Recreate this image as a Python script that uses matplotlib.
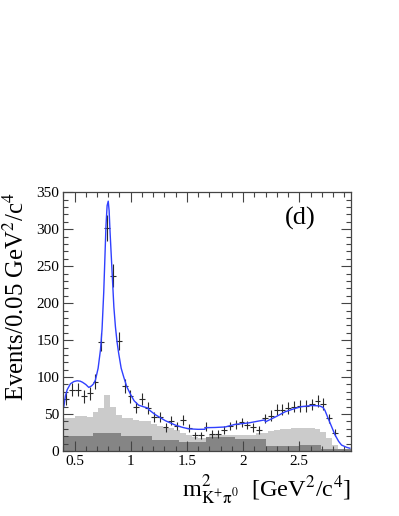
import numpy as np
import matplotlib
matplotlib.use("Agg")
import matplotlib.pyplot as plt
from matplotlib.ticker import MultipleLocator

plt.rcParams['font.family'] = ['Liberation Serif', 'DejaVu Serif']
plt.rcParams['mathtext.fontset'] = 'stix'

# binning of the data histogram
lo, bw = 0.4, 0.052
# data points (events per bin)
counts = [71, 83, 83, 74, 78, 94, 147, 302, 237, 149, 88, 74, 59, 70, 58, 46,
          46, 32, 41, 34, 42, 31, 21, 21, 33, 23, 23, 28, 34, 36, 39, 35, 32,
          28, 44, 48, 56, 56, 58, 60, 61, 61, 63, 68, 64, 44, 25]

# light grey background (per data bin)
light_vals = [44, 44, 47, 47, 46, 53, 58, 76, 60, 49, 45, 44, 42, 41, 40, 37,
              34, 33, 31, 28, 25, 21, 19, 18, 17, 22, 22, 22, 21.5, 21.7, 22,
              22, 22, 24, 25, 27, 28, 30, 30, 31, 31.6, 31.6, 31.6, 30, 26,
              18, 8, 3, 1, 0]

# dark grey background (coarse bins)
dark_edges = [0.4, 0.66, 0.91, 1.19, 1.43, 1.67, 1.93, 2.2, 2.5, 2.69, 2.96]
dark_vals = [20, 25, 20, 15.5, 12.5, 19, 16, 7, 8, 3]

# fit curve
fit_x = [0.405, 0.42, 0.435, 0.464, 0.495, 0.524, 0.55, 0.571, 0.6, 0.627,
         0.651, 0.67, 0.686, 0.71, 0.731, 0.745, 0.76, 0.77, 0.78, 0.79, 0.8,
         0.808, 0.815, 0.825, 0.835, 0.85, 0.864, 0.878, 0.893, 0.915, 0.938,
         0.965, 0.997, 1.03, 1.07, 1.11, 1.155, 1.16, 1.22, 1.308, 1.397,
         1.46, 1.515, 1.6, 1.66, 1.665, 1.75, 1.84, 1.93, 2.05, 2.19, 2.2,
         2.3, 2.373, 2.45, 2.52, 2.61, 2.68, 2.71, 2.728, 2.757, 2.79, 2.817,
         2.85, 2.876, 2.92, 2.95]
fit_y = [60, 75, 83, 91, 94, 95, 94.5, 93, 90, 86, 88, 91, 96, 112, 137, 165,
         215, 260, 305, 332, 338, 325, 300, 270, 240, 195, 168, 148, 132, 112,
         100, 87, 77, 68, 62, 60, 58, 56, 49, 41, 35, 32, 30, 29.3, 29.4, 31.5,
         31.8, 32.5, 36, 38, 42, 39.5, 47, 53, 57, 60, 61.5, 61, 59, 55, 44,
         32, 22, 13, 8, 5, 3.7]

x_ticks = [0.5, 1, 1.5, 2, 2.5]
x_ticklabels = ['0.5', '1', '1.5', '2', '2.5']
y_ticks = [0, 50, 100, 150, 200, 250, 300, 350]

fig = plt.figure(figsize=(3.99, 5.16), dpi=100)
ax = fig.add_axes([0.1586, 0.126, 0.7211, 0.5013])

light_edges = lo + bw * np.arange(len(light_vals) + 1)
ax.stairs(light_vals, light_edges, fill=True, color='#cbcbcb', lw=0)
ax.stairs(dark_vals, dark_edges, fill=True, color='#858585', lw=0)

centers = lo + bw * (np.arange(len(counts)) + 0.5)
counts = np.array(counts, dtype=float)
ax.errorbar(centers, counts, yerr=np.sqrt(counts), xerr=bw / 2, fmt='none',
            ecolor='#2a2a2a', elinewidth=0.8, capsize=0)

ax.plot(fit_x, fit_y, color='#3040ff', lw=1.0)

ax.set_xlim(0.4, 2.96)
ax.set_ylim(0, 350)
ax.set_xticks(x_ticks)
ax.set_xticklabels(x_ticklabels)
ax.set_yticks(y_ticks)
ax.xaxis.set_minor_locator(MultipleLocator(0.1))
ax.yaxis.set_minor_locator(MultipleLocator(10))
ax.tick_params(which='both', direction='in', top=True, right=True,
               labelsize=11, pad=3, color='#444444', width=0.8)
ax.tick_params(which='major', length=7)
ax.tick_params(which='minor', length=3.5)
for s in ax.spines.values():
    s.set_color('#444444')
    s.set_linewidth(0.9)

ax.set_ylabel(r'Events/0.05 GeV$^{2}$/c$^{4}$', fontsize=17.8, loc='top')
ax.yaxis.set_label_coords(-0.12, 1.0)
ax.set_xlabel(r'm$^{2}_{\mathrm{K^{+}\pi^{0}}}$  [GeV$^{2}$/c$^{4}$]',
              fontsize=17.5, loc='right')
ax.xaxis.set_label_coords(1.0, -0.08)

ax.text(0.823, 0.9, '(d)', transform=ax.transAxes, fontsize=19,
        ha='center', va='center')

fig.savefig('out.png', dpi=100)
